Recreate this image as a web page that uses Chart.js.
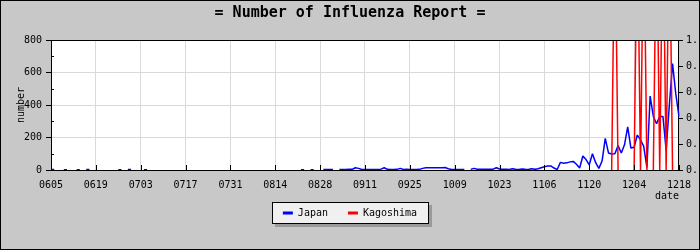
<!DOCTYPE html>
<html>
<head>
<meta charset="utf-8">
<script src="https://cdn.jsdelivr.net/npm/chart.js@4.4.0/dist/chart.umd.min.js"></script>
<style>
  html, body { margin: 0; padding: 0; background: #c8c8c8; }
  #wrap { width: 700px; height: 250px; }
</style>
</head>
<body>
<div id="wrap"><canvas id="chart" width="700" height="250"></canvas></div>
<script>
// daily series, first day is 2009-06-05
const tickLabels = ['0605','0619','0703','0717','0731','0814','0828','0911','0925','1009','1023','1106','1120','1204','1218'];

const japan = [
  3,3,null,null,2,2,null,null,2,2,null,3,3,null,
  null,null,null,null,null,null,null,2,2,null,3,3,null,null,
  null,2,2,null,null,null,null,null,null,null,null,null,null,null,
  null,null,null,null,null,null,null,null,null,null,null,null,null,null,
  null,null,null,null,null,null,null,null,null,null,null,null,null,null,
  null,null,null,null,null,null,null,null,2,2,null,2,2,null,
  null,3,3,3,3,null,3,3,3,4,4,14,10,3,
  3,3,3,3,3,5,14,4,3,3,4,10,3,4,
  3,3,3,4,10,14,14,14,14,14,14,15,8,3,
  3,3,3,3,null,4,10,5,5,5,5,5,5,14,
  6,4,5,3,8,4,3,6,4,3,8,4,8,14,
  20,24,25,12,3,47,42,44,50,53,35,12,86,64,
  32,100,45,10,55,195,105,98,100,150,105,155,265,135,
  140,215,185,145,15,455,330,285,330,330,120,400,655,470,
  330
];

// Kagoshima (right axis): reported days only
const kagoshimaDays   = ['1127','1128','1129','1204','1205','1206','1207','1208','1210','1211','1212','1213','1214','1215','1216'];
const kagoshimaValues = [0,2,0,0,2,0,2,0,0,2,0,2,0,2,0];

function mmdd(i){
  const d = new Date(2009, 5, 5 + i);
  return String(d.getMonth()+1).padStart(2,'0') + String(d.getDate()).padStart(2,'0');
}
const labels = japan.map((v, i) => mmdd(i));
const kagoshima = labels.map(l => {
  const k = kagoshimaDays.indexOf(l);
  return k < 0 ? null : kagoshimaValues[k];
});

const FONT = 'DejaVu Sans Mono';
Chart.defaults.color = '#000';
Chart.defaults.font.family = FONT;
Chart.defaults.font.size = 10;

const frame = {
  id: 'frame',
  beforeDraw(chart){
    const {ctx, chartArea: a, width, height} = chart;
    ctx.save();
    ctx.fillStyle = '#c8c8c8';
    ctx.fillRect(0, 0, width, height);
    ctx.fillStyle = '#fff';
    ctx.fillRect(a.left, a.top, a.right - a.left, a.bottom - a.top);
    const hb = chart.legend && chart.legend.legendHitBoxes;
    if (hb && hb.length){
      const last = hb[hb.length-1];
      const l = Math.round(hb[0].left - 11), r = Math.round(last.left + last.width + 11);
      const cy = hb[0].top + hb[0].height/2;
      const t = Math.round(cy - 11), b = Math.round(cy + 10);
      ctx.fillStyle = '#9a9a9a';
      ctx.fillRect(l + 3, t + 3, r - l + 1, b - t + 1);
      ctx.fillStyle = '#f0f0f0';
      ctx.fillRect(l, t, r - l, b - t);
      ctx.strokeStyle = '#000';
      ctx.lineWidth = 1;
      ctx.strokeRect(l + 0.5, t + 0.5, r - l, b - t);
    }
    ctx.restore();
  },
  afterDatasetsDraw(chart){
    const {ctx, chartArea: a, scales} = chart;
    ctx.save();
    ctx.strokeStyle = '#000';
    ctx.lineWidth = 1;
    ctx.beginPath();
    // minor ticks, drawn inward
    scales.y.ticks.forEach(t => {
      if (t.value % 200 !== 0){
        const y = Math.round(scales.y.getPixelForValue(t.value)) + 0.5;
        ctx.moveTo(a.left, y); ctx.lineTo(a.left + 3, y);
      }
    });
    scales.y1.ticks.forEach(t => {
      if (Math.round(t.value * 10) % 2){
        const y = Math.round(scales.y1.getPixelForValue(t.value)) + 0.5;
        ctx.moveTo(a.right - 3, y); ctx.lineTo(a.right, y);
      }
    });
    labels.forEach((l, i) => {
      if (tickLabels.includes(l)){
        const x = Math.round(scales.x.getPixelForTick(i)) + 0.5;
        ctx.moveTo(x, a.bottom); ctx.lineTo(x, a.bottom - 5);
      }
    });
    const top = Math.round(a.top) + 0.5;
    ctx.moveTo(a.left, top); ctx.lineTo(a.right, top);
    ctx.stroke();
    ctx.restore();
  },
  afterDraw(chart){
    const {ctx, width, height} = chart;
    ctx.save();
    ctx.strokeStyle = '#000';
    ctx.lineWidth = 1;
    ctx.strokeRect(0.5, 0.5, width - 1, height - 1);
    ctx.restore();
  }
};

new Chart(document.getElementById('chart'), {
  type: 'line',
  data: {
    labels: labels,
    datasets: [
      { label: 'Japan', data: japan, yAxisID: 'y', order: 1,
        borderColor: '#0000ff', backgroundColor: '#0000ff', borderWidth: 1.5,
        pointRadius: 0, tension: 0, spanGaps: false, borderJoinStyle: 'bevel' },
      { label: 'Kagoshima', data: kagoshima, yAxisID: 'y1', order: 0,
        borderColor: '#ff0000', backgroundColor: '#ff0000', borderWidth: 1.5,
        pointRadius: 0, tension: 0, spanGaps: false, borderJoinStyle: 'bevel' }
    ]
  },
  options: {
    responsive: false,
    animation: false,
    devicePixelRatio: 1,
    layout: { padding: { left: 0, right: 0, top: 0, bottom: 22 } },
    plugins: {
      title: {
        display: true,
        text: '= Number of Influenza Report =',
        font: { family: FONT, size: 15, weight: 'bold' },
        color: '#000',
        padding: { top: 4, bottom: 18 }
      },
      legend: {
        position: 'bottom',
        labels: {
          font: { family: FONT, size: 10 },
          boxWidth: 10,
          boxHeight: 3,
          padding: 20,
          sort: (a, b) => a.datasetIndex - b.datasetIndex,
          generateLabels: (chart) => Chart.defaults.plugins.legend.labels.generateLabels(chart)
            .map(l => Object.assign(l, { lineWidth: 0, fillStyle: l.strokeStyle }))
        }
      },
      tooltip: { enabled: false }
    },
    scales: {
      x: {
        grid: {
          drawTicks: false,
          color: (c) => tickLabels.includes(labels[c.index]) ? '#d9d9d9' : 'rgba(0,0,0,0)'
        },
        border: { color: '#000', width: 1 },
        ticks: {
          autoSkip: false, maxRotation: 0, minRotation: 0, padding: 9,
          callback: (v, i) => tickLabels.includes(labels[i]) ? labels[i] : ''
        },
        title: { display: true, text: 'date', align: 'end', padding: { top: 0, bottom: -14 } },
        afterFit: (s) => { s.height = 18; }
      },
      y: {
        position: 'left',
        min: 0, max: 800,
        grid: {
          tickLength: 5,
          color: (c) => c.tick && c.tick.value % 200 === 0 ? '#d9d9d9' : 'rgba(0,0,0,0)',
          tickColor: (c) => c.tick && c.tick.value % 200 === 0 ? '#000' : 'rgba(0,0,0,0)'
        },
        border: { color: '#000', width: 1 },
        ticks: { stepSize: 100, padding: 4, callback: (v) => v % 200 === 0 ? v : '' },
        title: { display: true, text: 'number', padding: { top: 15, bottom: 0 } },
        afterFit: (s) => { s.width = 51; }
      },
      y1: {
        position: 'right',
        min: 0, max: 1,
        grid: {
          drawOnChartArea: false,
          tickLength: 4,
          tickColor: (c) => c.tick && Math.round(c.tick.value * 10) % 2 === 0 ? '#000' : 'rgba(0,0,0,0)'
        },
        border: { color: '#000', width: 1 },
        ticks: { stepSize: 0.1, padding: 3, callback: (v) => Math.round(v * 10) % 2 === 0 ? v.toFixed(1) : '' },
        afterFit: (s) => { s.width = 19; }
      }
    }
  },
  plugins: [frame]
});
</script>
</body>
</html>
